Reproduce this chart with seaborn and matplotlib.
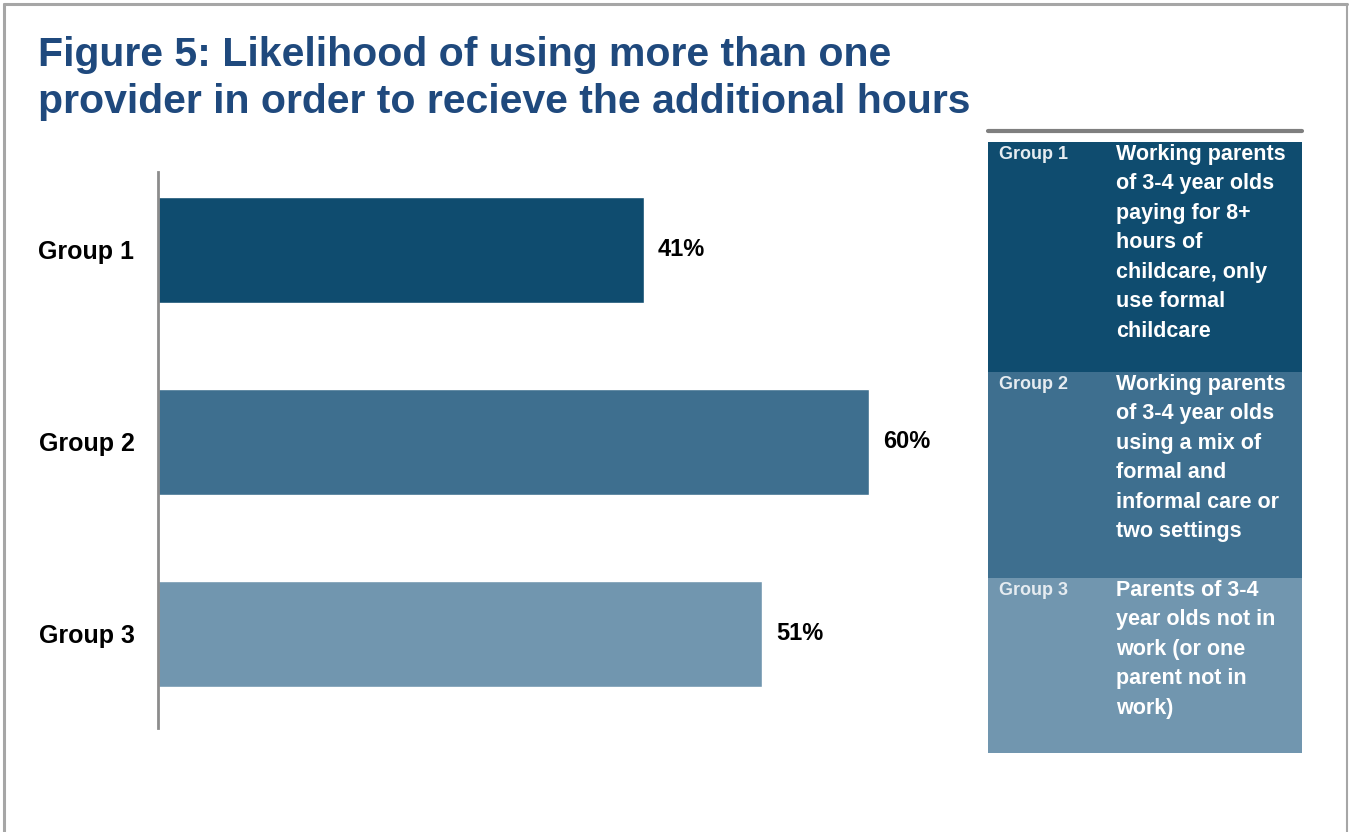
import matplotlib
matplotlib.use("Agg")
import matplotlib.pyplot as plt
import seaborn as sns
import pandas as pd
from matplotlib.patches import Rectangle
from matplotlib.lines import Line2D

groups = ["Group 1", "Group 2", "Group 3"]
values = [41, 60, 51]
colors = ["#0F4C6F", "#3E6F8F", "#7196AF"]
descriptions = [
    "Working parents\nof 3-4 year olds\npaying for 8+\nhours of\nchildcare, only\nuse formal\nchildcare",
    "Working parents\nof 3-4 year olds\nusing a mix of\nformal and\ninformal care or\ntwo settings",
    "Parents of 3-4\nyear olds not in\nwork (or one\nparent not in\nwork)",
]
title = "Figure 5: Likelihood of using more than one\nprovider in order to recieve the additional hours"

sns.set_theme(style="white")
plt.rcParams["font.family"] = ["Liberation Sans", "DejaVu Sans"]

W, H = 1349, 832
fig = plt.figure(figsize=(W / 100, H / 100), dpi=100)
fig.patch.set_facecolor("white")

def fx(px):
    return px / W

def fy(py):
    return 1 - py / H

# frame border
fig.add_artist(Line2D([fx(4), fx(4)], [fy(4), fy(832)], color="#A6A6A6", lw=2.2))
fig.add_artist(Line2D([fx(4), fx(1347)], [fy(4), fy(4)], color="#A6A6A6", lw=2.2))
fig.add_artist(Line2D([fx(1347), fx(1347)], [fy(4), fy(832)], color="#A6A6A6", lw=1.5))

# title
fig.text(fx(38), fy(36), title, ha="left", va="top", fontsize=29.5, fontweight="bold",
         color="#1F497D", linespacing=1.3)

df = pd.DataFrame({"group": groups, "value": values})
ax = fig.add_axes([fx(158), fy(728), fx(987) - fx(158), (728 - 172) / H])
sns.barplot(data=df, y="group", x="value", hue="group", palette=colors,
            orient="h", width=0.55, legend=False, ax=ax, saturation=1)
ax.set_xlim(0, 70)
ax.set_ylim(2.49, -0.406)
ax.set_xlabel("")
ax.set_ylabel("")
ax.set_xticks([])
for s in ["top", "right", "bottom"]:
    ax.spines[s].set_visible(False)
ax.spines["left"].set_color("#8C8C8C")
ax.spines["left"].set_linewidth(2)
ax.tick_params(axis="y", length=0, pad=17)
for lab in ax.get_yticklabels():
    lab.set_fontsize(18)
    lab.set_fontweight("bold")
    lab.set_color("black")
for i, v in enumerate(values):
    ax.text(v + 1.2, i, f"{v}%", va="center", ha="left", fontsize=17,
            fontweight="bold", color="black")

# side table
fig.add_artist(Line2D([fx(988), fx(1302)], [fy(131), fy(131)], color="#7F7F7F", lw=3))
row_edges = [142, 372, 578, 753]
for i in range(3):
    top, bot = row_edges[i], row_edges[i + 1]
    fig.add_artist(Rectangle((fx(988), fy(bot)), fx(1302) - fx(988), (bot - top) / H,
                             facecolor=colors[i], edgecolor="none"))
    fig.text(fx(999), fy(top + 4), groups[i], ha="left", va="top", fontsize=13,
             fontweight="bold", color="#E6ECF1")
    fig.text(fx(1116), fy(top + 2), descriptions[i], ha="left", va="top", fontsize=15.5,
             fontweight="bold", color="white", linespacing=1.53)

fig.savefig("out.png", dpi=100, facecolor="white")
